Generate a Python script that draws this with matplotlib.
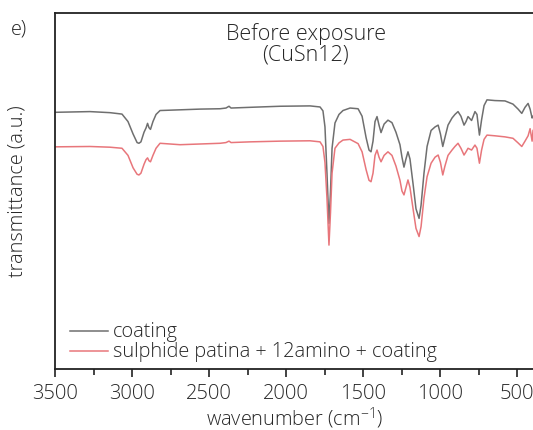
import matplotlib
matplotlib.use('Agg')
import matplotlib.pyplot as plt
from matplotlib.ticker import MultipleLocator

plt.rcParams['font.family'] = ['Open Sans', 'DejaVu Sans']
plt.rcParams['font.weight'] = 'light'
plt.rcParams['axes.labelweight'] = 'light'
plt.rcParams['mathtext.default'] = 'regular'

# 스펙트럼 데이터 (wavenumber, transmittance a.u.)
wn = [3500, 3273, 3143, 3065, 3026, 2993, 2967, 2955, 2942, 2922, 2909, 2899, 2890, 2880,
      2864, 2844, 2818, 2688, 2558, 2428, 2390, 2370, 2357, 2234, 2039, 1844, 1779, 1760,
      1747, 1734, 1721, 1711, 1701, 1682, 1656, 1630, 1584, 1532, 1506, 1480, 1461, 1448,
      1435, 1422, 1409, 1396, 1383, 1363, 1338, 1312, 1286, 1260, 1247, 1234, 1221, 1208,
      1195, 1175, 1156, 1136, 1123, 1104, 1084, 1058, 1032, 1012, 997, 982, 968, 948,
      922, 903, 883, 864, 844, 831, 818, 795, 773, 760, 744, 730, 714, 695, 643, 578,
      526, 493, 469, 448, 428, 415, 402, 396]

coating = [72.1, 72.3, 72.0, 71.6, 69.5, 66.0, 63.6, 63.4, 63.8, 66.5, 67.7, 69.0, 67.8, 67.3,
           69.5, 71.5, 72.6, 72.8, 73.0, 73.1, 73.3, 73.8, 73.3, 73.5, 73.8, 73.9, 73.6, 72.5,
           68.0, 55.0, 40.9, 50.0, 62.0, 69.1, 71.5, 72.6, 73.3, 73.1, 71.0, 65.0, 61.5, 61.0,
           64.0, 69.5, 70.9, 68.5, 66.4, 68.8, 69.9, 69.2, 66.5, 63.0, 59.5, 56.7, 59.0, 61.0,
           59.0, 52.0, 45.0, 42.3, 46.0, 55.0, 62.5, 67.0, 68.0, 68.5, 66.0, 62.5, 65.0, 68.5,
           70.5, 71.5, 72.3, 71.0, 68.5, 69.5, 70.9, 69.8, 72.3, 71.5, 65.7, 70.0, 74.0, 75.6,
           75.4, 75.3, 74.4, 73.0, 71.8, 73.5, 74.6, 73.0, 70.5, 71.0]

patina = [62.4, 62.5, 62.3, 62.0, 60.0, 56.5, 54.7, 54.5, 55.0, 57.5, 58.8, 59.3, 58.5, 58.2,
          60.0, 62.0, 63.4, 63.0, 63.2, 63.4, 63.6, 64.0, 63.6, 63.8, 64.0, 64.1, 63.8, 62.5,
          58.0, 48.0, 34.8, 44.0, 55.0, 62.0, 63.5, 64.3, 64.5, 63.3, 61.0, 56.0, 53.0, 52.6,
          55.0, 60.0, 61.5, 59.5, 58.2, 60.0, 61.0, 60.0, 57.0, 53.0, 50.0, 48.9, 51.0, 53.1,
          51.0, 45.0, 39.5, 37.2, 40.0, 48.0, 54.0, 57.8, 59.5, 60.1, 58.0, 54.5, 57.0, 60.0,
          61.5, 62.5, 63.4, 62.0, 60.1, 61.0, 62.0, 61.5, 62.9, 62.0, 57.8, 61.5, 64.5, 65.7,
          65.5, 65.2, 64.8, 63.5, 62.5, 64.0, 65.5, 67.5, 64.0, 67.0]

labels = ['coating', 'sulphide patina + 12amino + coating']
colors = ['#6f6f6f', '#e8767b']
txt = '#262626'
fs = 14.3

fig = plt.figure(figsize=(5.33, 4.30), dpi=100)
ax = fig.add_axes([0.1032, 0.1419, 0.9, 0.8279])

ax.plot(wn, coating, color=colors[0], lw=1.1, label=labels[0])
ax.plot(wn, patina, color=colors[1], lw=1.1, label=labels[1])

ax.set_xlim(3500, 3500 - 0.9 * 533 * 500 / 77)
ax.set_ylim(0, 100)

ax.xaxis.set_major_locator(MultipleLocator(500))
ax.xaxis.set_minor_locator(MultipleLocator(250))
ax.tick_params(axis='x', which='major', direction='out', length=6, width=1.2, labelsize=14.5,
               pad=5, color='#222222', labelcolor=txt)
ax.tick_params(axis='x', which='minor', direction='out', length=4, width=1.2, color='#222222')
ax.set_yticks([])
ax.spines['right'].set_visible(False)
for s in ['left', 'top', 'bottom']:
    ax.spines[s].set_linewidth(1.3)
    ax.spines[s].set_color('#222222')

# 축 라벨
ax.set_xlabel('wavenumber (cm$^{-1}$)', fontsize=fs, color=txt, labelpad=1)
ax.set_ylabel('transmittance (a.u.)', fontsize=fs, color=txt, labelpad=20)

ax.text(0.523, 0.972, 'Before exposure\n(CuSn12)', transform=ax.transAxes, ha='center', va='top',
        fontsize=15.5, color=txt, linespacing=0.95)
fig.text(0.02, 0.955, 'e)', fontsize=fs, color=txt, va='top')

leg = ax.legend(loc='lower left', bbox_to_anchor=(0.0146, -0.004), frameon=False, fontsize=fs,
                handlelength=1.9, handletextpad=0.25, labelspacing=0.0, borderaxespad=0.0)
for t in leg.get_texts():
    t.set_color(txt)

plt.savefig('out.png', dpi=100)
